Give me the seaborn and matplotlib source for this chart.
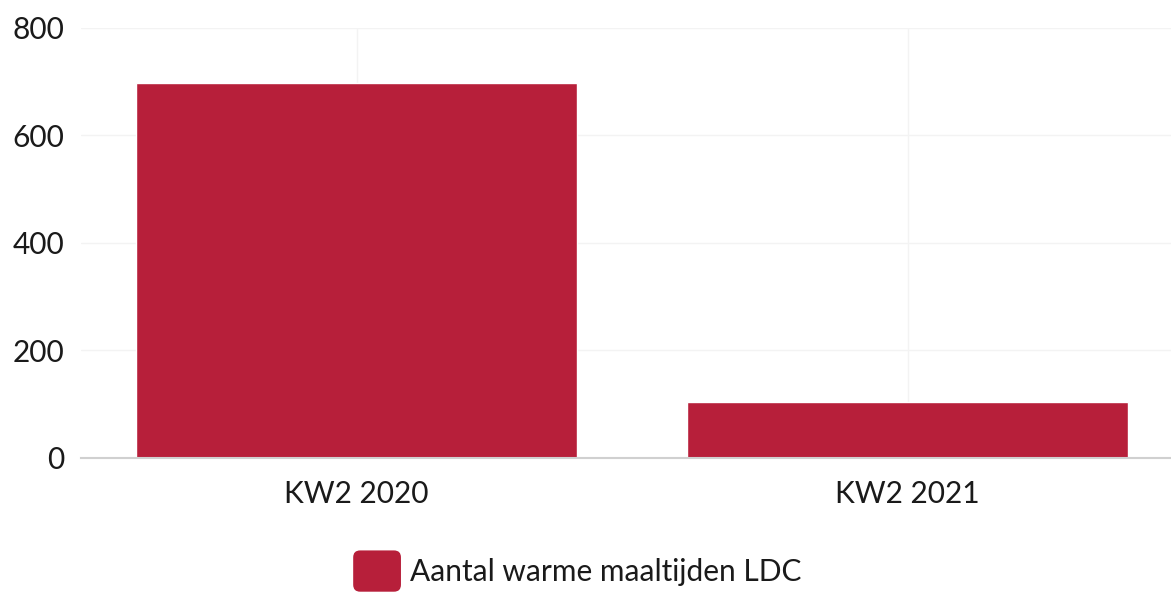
import matplotlib
matplotlib.use("Agg")
import matplotlib.pyplot as plt
import seaborn as sns
import pandas as pd
from matplotlib.patches import FancyBboxPatch, Patch
from matplotlib.legend_handler import HandlerPatch

categories = ["KW2 2020", "KW2 2021"]
values = [697, 105]
series_name = "Aantal warme maaltijden LDC"
yticks = [0, 200, 400, 600, 800]

color = "#B71F3A"

sns.set_theme(style="white")
plt.rcParams['font.family'] = ['Lato', 'DejaVu Sans']

fig = plt.figure(figsize=(11.71, 5.93), dpi=100)
ax = fig.add_axes([0.0692, 0.2277, 0.9308, 0.7251])

df = pd.DataFrame({"cat": categories, "val": values})
sns.barplot(data=df, x="cat", y="val", color=color, saturation=1, width=0.8,
            ax=ax, zorder=3)

ax.set_xlim(-0.5, 1.478)
ax.set_ylim(0, 800)
ax.set_yticks(yticks)
ax.set_xlabel("")
ax.set_ylabel("")
ax.grid(True, axis="both", color="#f3f3f3", linewidth=1, zorder=0)
for s in ["top", "right", "left"]:
    ax.spines[s].set_visible(False)
ax.spines["bottom"].set_color("#d0d0d0")
ax.spines["bottom"].set_linewidth(1.5)
ax.spines["bottom"].set_zorder(4)
ax.tick_params(axis="both", length=0, labelsize=21.5, labelcolor="#1a1a1a")
ax.tick_params(axis="y", pad=12)
ax.tick_params(axis="x", pad=16)

class RoundHandler(HandlerPatch):
    def create_artists(self, legend, orig_handle, xdescent, ydescent, width, height, fontsize, trans):
        p = FancyBboxPatch((-xdescent, -ydescent), width, height,
                           boxstyle="round,pad=0,rounding_size=5",
                           facecolor=color, edgecolor="none", transform=trans)
        return [p]

h = Patch(facecolor=color)
leg = fig.legend([h], [series_name], loc="center", bbox_to_anchor=(0.493, 0.037),
                 frameon=False, fontsize=21.5, handlelength=1.6, handleheight=1.75,
                 handletextpad=0.3, handler_map={Patch: RoundHandler()})
for t in leg.get_texts():
    t.set_color("#1a1a1a")

fig.savefig("out.png", dpi=100)
